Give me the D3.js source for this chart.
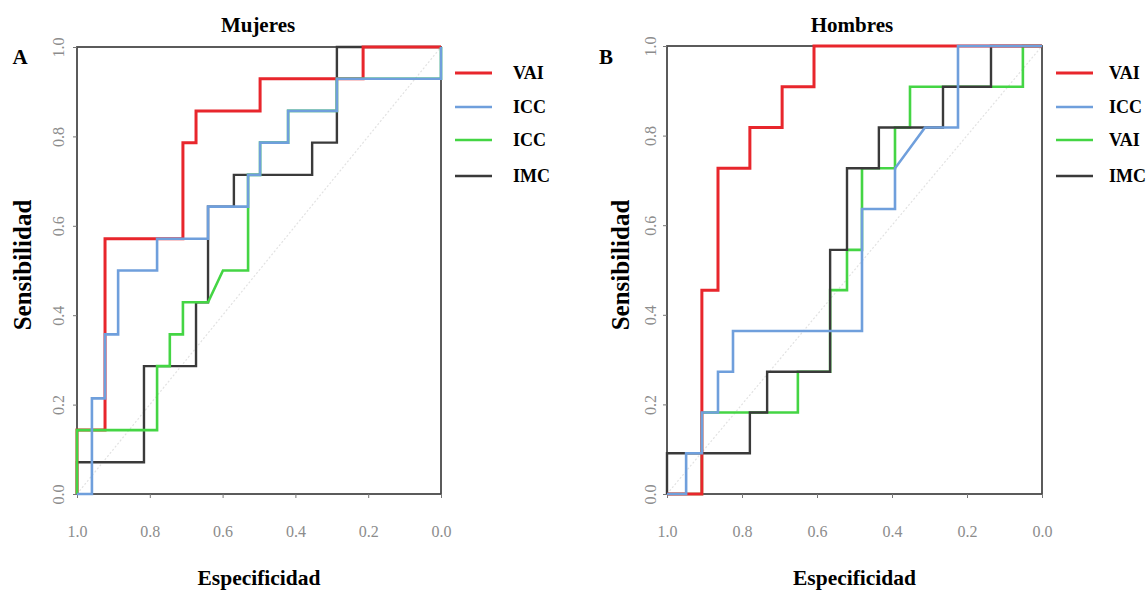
<!DOCTYPE html>
<html>
<head>
<meta charset="utf-8">
<script src="https://cdn.jsdelivr.net/npm/d3@7"></script>
<style>
body{margin:0;background:#fff;}
svg{display:block;font-family:'Liberation Serif','Times New Roman',serif;}
.tick line{stroke:#777;}
.domain{stroke:none;}
.bold{font-weight:bold;fill:#000;}
</style>
</head>
<body>
<script>
const width=1148;
const height=592;

// ticks shared by both axes
const tickVals=[0,0.2,0.4,0.6,0.8,1.0];

// Mujeres (A) - specificity / sensitivity of each step vertex
const mujVaiSpec=[1,1,0.923,0.923,0.709,0.709,0.673,0.673,0.497,0.497,0.214,0.214,0];
const mujVaiSens=[0,0.143,0.143,0.571,0.571,0.786,0.786,0.857,0.857,0.929,0.929,1,1];

const mujIccSpec=[1,0.959,0.959,0.923,0.923,0.887,0.887,0.78,0.78,0.64,0.64,0.53,0.53,0.497,0.497,0.42,0.42,0.286,0.286,0,0];
const mujIccSens=[0,0,0.214,0.214,0.357,0.357,0.5,0.5,0.571,0.571,0.643,0.643,0.714,0.714,0.786,0.786,0.857,0.857,0.929,0.929,1];

const mujIcc2Spec=[1,1,0.78,0.78,0.745,0.745,0.709,0.709,0.64,0.599,0.53,0.53,0.53,0.497,0.497,0.42,0.42,0.286,0.286,0,0];
const mujIcc2Sens=[0,0.143,0.143,0.286,0.286,0.357,0.357,0.429,0.429,0.5,0.5,0.643,0.714,0.714,0.786,0.786,0.857,0.857,0.929,0.929,1];

const mujImcSpec=[1,1,0.816,0.816,0.673,0.673,0.64,0.64,0.569,0.569,0.354,0.354,0.286,0.286,0];
const mujImcSens=[0,0.071,0.071,0.286,0.286,0.429,0.429,0.643,0.643,0.714,0.714,0.786,0.786,1,1];

// Hombres (B)
const homVaiSpec=[1,0.907,0.907,0.864,0.864,0.779,0.779,0.693,0.693,0.608,0.608,0];
const homVaiSens=[0,0,0.455,0.455,0.727,0.727,0.818,0.818,0.909,0.909,1,1];

const homIccSpec=[1,0.949,0.949,0.907,0.907,0.864,0.864,0.824,0.824,0.48,0.48,0.392,0.392,0.312,0.224,0.224,0];
const homIccSens=[0,0,0.091,0.091,0.182,0.182,0.273,0.273,0.364,0.364,0.636,0.636,0.727,0.818,0.818,1,1];

const homVai2Spec=[1,0.907,0.907,0.651,0.651,0.565,0.565,0.52,0.52,0.48,0.48,0.392,0.392,0.352,0.352,0.051,0.051,0];
const homVai2Sens=[0,0,0.182,0.182,0.273,0.273,0.455,0.455,0.545,0.545,0.727,0.727,0.818,0.818,0.909,0.909,1,1];

const homImcSpec=[1,1,0.779,0.779,0.733,0.733,0.565,0.565,0.52,0.52,0.435,0.435,0.264,0.264,0.136,0.136,0];
const homImcSens=[0,0.091,0.091,0.182,0.182,0.273,0.273,0.545,0.545,0.727,0.727,0.818,0.818,0.909,0.909,1,1];

const mujLegend=['VAI','ICC','ICC','IMC'];
const homLegend=['VAI','ICC','VAI','IMC'];

const RED='#e8262c', BLUE='#6f9fdc', GREEN='#44d544', BLACK='#3a3a3a';
const SERIF="'Liberation Serif','Times New Roman',serif";

const panels=[
  {title:'Mujeres',letter:'A',left:77,right:441,top:47,bottom:494,titleX:258,letterX:20,ylabX:22,tickOff:19,
   legX:455,legTextX:513,legend:mujLegend,
   series:[
     {spec:mujImcSpec,sens:mujImcSens,color:BLACK,w:2.4},
     {spec:mujVaiSpec,sens:mujVaiSens,color:RED,w:3},
     {spec:mujIcc2Spec,sens:mujIcc2Sens,color:GREEN,w:2.6},
     {spec:mujIccSpec,sens:mujIccSens,color:BLUE,w:2.6}
   ]},
  {title:'Hombres',letter:'B',left:667,right:1042,top:46,bottom:494,titleX:852,letterX:606,ylabX:620,tickOff:17,
   legX:1056,legTextX:1109,legend:homLegend,
   series:[
     {spec:homVai2Spec,sens:homVai2Sens,color:GREEN,w:2.6},
     {spec:homImcSpec,sens:homImcSens,color:BLACK,w:2.4},
     {spec:homVaiSpec,sens:homVaiSens,color:RED,w:3},
     {spec:homIccSpec,sens:homIccSens,color:BLUE,w:2.6}
   ]}
];
const legendColors=[RED,BLUE,GREEN,BLACK];
const legendY=[73,107,140,176];

const svg=d3.select('body').append('svg').attr('width',width).attr('height',height);

panels.forEach(p=>{
  const x=d3.scaleLinear().domain([1,0]).range([p.left,p.right]);
  const y=d3.scaleLinear().domain([0,1]).range([p.bottom,p.top]);
  const g=svg.append('g');

  // chance diagonal
  g.append('line')
    .attr('x1',x(1)).attr('y1',y(0)).attr('x2',x(0)).attr('y2',y(1))
    .attr('stroke','#e2e2e2').attr('stroke-width',1.2).attr('stroke-dasharray','2,2');

  // frame
  g.append('rect')
    .attr('x',p.left).attr('y',p.top)
    .attr('width',p.right-p.left).attr('height',p.bottom-p.top)
    .attr('fill','none').attr('stroke','#4a4a4a').attr('stroke-width',1.8);

  const xAxis=d3.axisBottom(x).tickValues(tickVals).tickFormat(d3.format('.1f')).tickSize(4).tickPadding(28);
  const xa=g.append('g').attr('transform',`translate(0,${p.bottom})`).call(xAxis)
    .attr('font-family',SERIF).attr('font-size',16);
  xa.selectAll('.tick text').attr('fill','#8c8c8c');

  const yAxis=d3.axisLeft(y).tickValues(tickVals).tickFormat(d3.format('.1f')).tickSize(4);
  const ya=g.append('g').attr('transform',`translate(${p.left},0)`).call(yAxis)
    .attr('font-family',SERIF).attr('font-size',16);
  ya.selectAll('.tick text')
    .attr('fill','#8c8c8c')
    .attr('x',0).attr('y',-p.tickOff).attr('dy','0.35em')
    .attr('text-anchor','middle').attr('transform','rotate(-90)');

  const line=d3.line().x(d=>x(d[0])).y(d=>y(d[1]));
  p.series.forEach(s=>{
    const pts=s.spec.map((v,i)=>[v,s.sens[i]]);
    g.append('path').datum(pts)
      .attr('d',line)
      .attr('fill','none')
      .attr('stroke',s.color)
      .attr('stroke-width',s.w)
      .attr('stroke-linejoin','miter');
  });

  // titles
  g.append('text').attr('class','bold').attr('x',p.titleX).attr('y',32)
    .attr('text-anchor','middle').style('font-size','21px').text(p.title);
  g.append('text').attr('class','bold').attr('x',p.letterX).attr('y',64)
    .attr('text-anchor','middle').style('font-size','21px').text(p.letter);
  g.append('text').attr('class','bold').attr('x',(p.left+p.right)/2).attr('y',585)
    .attr('text-anchor','middle').style('font-size','21.5px').text('Especificidad');
  g.append('text').attr('class','bold')
    .attr('transform',`translate(${p.ylabX+9},265) rotate(-90)`)
    .attr('text-anchor','middle').style('font-size','25px').text('Sensibilidad');

  // legend
  p.legend.forEach((lab,i)=>{
    g.append('line')
      .attr('x1',p.legX).attr('x2',p.legX+37)
      .attr('y1',legendY[i]).attr('y2',legendY[i])
      .attr('stroke',legendColors[i]).attr('stroke-width',i===0?3:2.6);
    g.append('text').attr('class','bold')
      .attr('x',p.legTextX).attr('y',legendY[i]+6)
      .style('font-size','18px').text(lab);
  });
});
</script>
</body>
</html>
